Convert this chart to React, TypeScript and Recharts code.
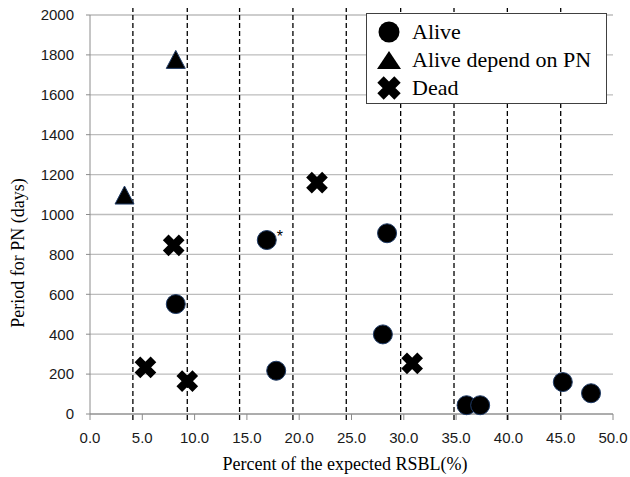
import {
  CartesianGrid,
  ReferenceLine,
  Scatter,
  ScatterChart,
  XAxis,
  YAxis,
  Label,
} from "recharts";

// Valores (x = % del RSBL esperado, y = días de PN)
const aliveX = [8.2, 16.9, 17.8, 28.0, 28.4, 36.0, 37.3, 45.2, 47.9];
const aliveY = [551, 872, 217, 399, 906, 44, 44, 160, 104];
const aliveNotes = ["", "*", "", "", "", "", "", "", ""];

const dependX = [3.3, 8.2];
const dependY = [1090, 1770];

const deadX = [5.3, 8.0, 9.3, 21.7, 30.8];
const deadY = [234, 845, 165, 1160, 254];

// Líneas discontinuas verticales del original
const dashedLines = [4.1, 9.3, 14.3, 19.4, 24.5, 29.7, 34.8, 39.9, 45.0];

const xTicks = [0, 5, 10, 15, 20, 25, 30, 35, 40, 45, 50];
const yTicks = [0, 200, 400, 600, 800, 1000, 1200, 1400, 1600, 1800, 2000];

const legendItems = [
  { kind: "circle", label: "Alive" },
  { kind: "triangle", label: "Alive depend on PN" },
  { kind: "cross", label: "Dead" },
];

const aliveData = aliveX.map((x, i) => ({ x, y: aliveY[i], note: aliveNotes[i] }));
const dependData = dependX.map((x, i) => ({ x, y: dependY[i] }));
const deadData = deadX.map((x, i) => ({ x, y: deadY[i] }));

const OUTLINE = "#1f3b66";
const AXIS_GRAY = "#8c8c8c";
const GRID_GRAY = "#bdbdbd";
const SANS = "'Liberation Sans', Arial, sans-serif";
const SERIF = "'Liberation Serif', 'Times New Roman', serif";
const TICK_FONT = { fontFamily: SANS, fontSize: 15, fill: "#1a1a1a" };

function CircleMark(props: any) {
  const { cx, cy, payload } = props;
  return (
    <g>
      <circle cx={cx} cy={cy} r={9.5} fill="#000" stroke={OUTLINE} strokeWidth={1} />
      {payload?.note ? (
        <text x={cx + 10} y={cy + 2} fontFamily={SANS} fontSize={16} fill="#000">
          {payload.note}
        </text>
      ) : null}
    </g>
  );
}

function triangleShape(cx: number, cy: number, half: number, up: number, down: number) {
  return `${cx},${cy - up} ${cx + half},${cy + down} ${cx - half},${cy + down}`;
}

function TriangleMark(props: any) {
  const { cx, cy } = props;
  return (
    <polygon
      points={triangleShape(cx, cy, 9.5, 10.5, 7.5)}
      fill="#000"
      stroke={OUTLINE}
      strokeWidth={1}
    />
  );
}

function crossPath(cx: number, cy: number, a: number) {
  return `M${cx - a},${cy - a}L${cx + a},${cy + a}M${cx + a},${cy - a}L${cx - a},${cy + a}`;
}

function CrossMark(props: any) {
  const { cx, cy } = props;
  return <path d={crossPath(cx, cy, 8)} stroke="#000" strokeWidth={8} fill="none" />;
}

function LegendSymbol({ kind }: { kind: string }) {
  if (kind === "circle") {
    return <circle cx={14} cy={14} r={10.5} fill="#000" />;
  }
  if (kind === "triangle") {
    return <polygon points={triangleShape(14, 15, 12, 10, 8)} fill="#000" />;
  }
  return <path d={crossPath(14, 14, 8.5)} stroke="#000" strokeWidth={9} fill="none" />;
}

// Leyenda encima del gráfico: con <Legend> de Recharts se encogería el área
// de trazado, así que se superpone a mano en la esquina superior derecha.
function ChartLegend() {
  return (
    <div
      style={{
        position: "absolute",
        left: 366,
        top: 13,
        width: 241,
        height: 91,
        background: "#fff",
        border: "1px solid #404040",
        boxSizing: "border-box",
        padding: "4px 0 0 8px",
      }}
    >
      {legendItems.map((item) => (
        <div
          key={item.label}
          style={{ display: "flex", alignItems: "center", height: 28 }}
        >
          <svg width={28} height={28}>
            <LegendSymbol kind={item.kind} />
          </svg>
          <span
            style={{
              fontFamily: SERIF,
              fontSize: 22,
              marginLeft: 9,
              lineHeight: "28px",
              color: "#000",
            }}
          >
            {item.label}
          </span>
        </div>
      ))}
    </div>
  );
}

export default function App() {
  return (
    <div style={{ position: "absolute", left: 0, top: 0, width: 630, height: 477, background: "#fff" }}>
      <ScatterChart
        width={630}
        height={477}
        margin={{ top: 15, right: 17, bottom: 0, left: 0 }}
      >
        <CartesianGrid horizontal vertical={false} stroke={GRID_GRAY} strokeWidth={1.3} />
        <XAxis
          type="number"
          dataKey="x"
          domain={[0, 50]}
          ticks={xTicks}
          tickFormatter={(v: number) => v.toFixed(1)}
          height={63}
          stroke={AXIS_GRAY}
          tickSize={6}
          tickMargin={12}
          tick={TICK_FONT}
          interval={0}
        >
          <Label
            content={() => (
              <text
                x={345}
                y={470}
                textAnchor="middle"
                fontFamily={SERIF}
                fontSize={18}
                fill="#000"
              >
                Percent of the expected RSBL(%)
              </text>
            )}
          />
        </XAxis>
        <YAxis
          type="number"
          dataKey="y"
          domain={[0, 2000]}
          ticks={yTicks}
          width={90}
          stroke={AXIS_GRAY}
          tickSize={4}
          tickMargin={12}
          tick={TICK_FONT}
          interval={0}
        >
          <Label
            content={() => (
              <text
                x={24}
                y={253}
                transform="rotate(-90 24 253)"
                textAnchor="middle"
                fontFamily={SERIF}
                fontSize={18}
                fill="#000"
              >
                Period for PN (days)
              </text>
            )}
          />
        </YAxis>
        {dashedLines.map((v) => (
          <ReferenceLine
            key={v}
            segment={[
              { x: v, y: -30 },
              { x: v, y: 2035 },
            ]}
            ifOverflow="visible"
            stroke="#000"
            strokeWidth={1.3}
            strokeDasharray="5 3"
          />
        ))}
        <Scatter name="Alive" data={aliveData} shape={CircleMark} isAnimationActive={false} />
        <Scatter
          name="Alive depend on PN"
          data={dependData}
          shape={TriangleMark}
          isAnimationActive={false}
        />
        <Scatter name="Dead" data={deadData} shape={CrossMark} isAnimationActive={false} />
      </ScatterChart>
      <ChartLegend />
    </div>
  );
}
